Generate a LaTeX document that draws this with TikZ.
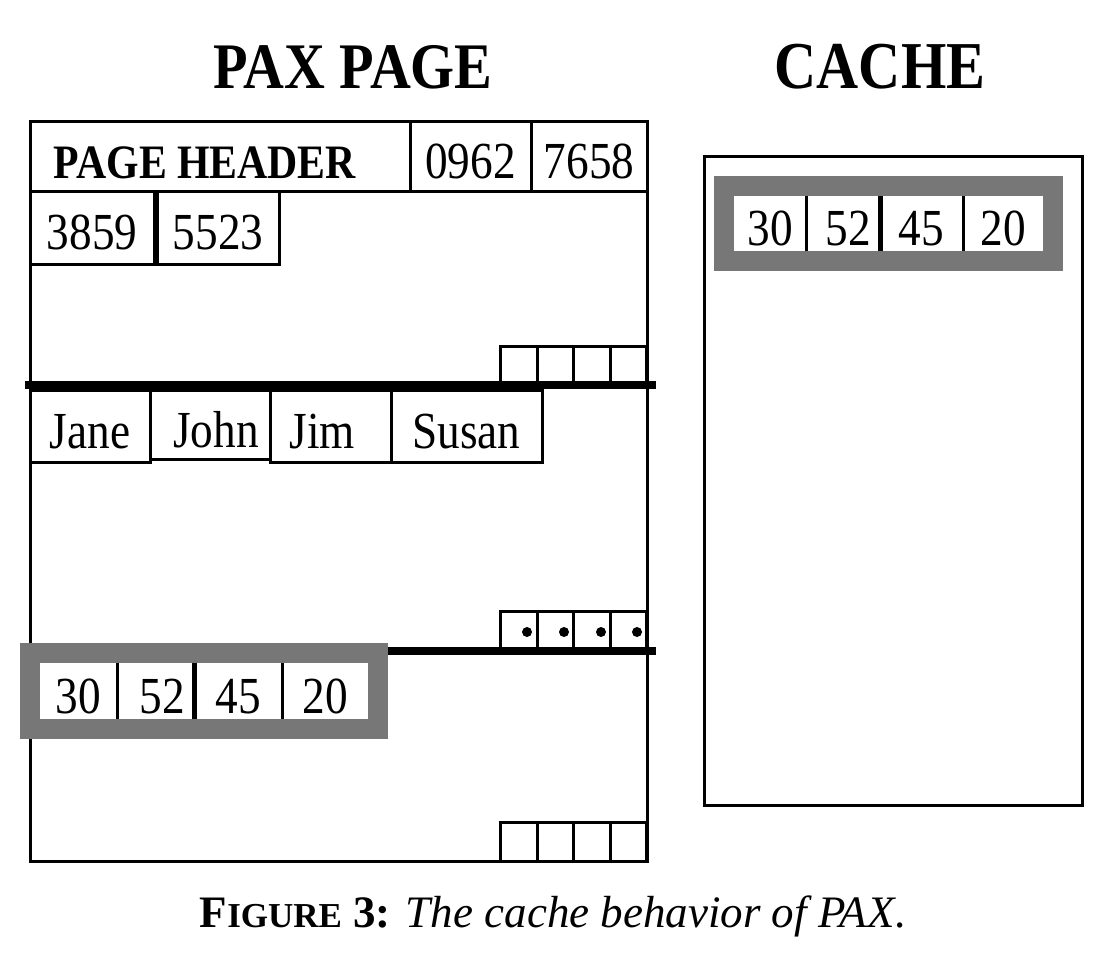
\documentclass[tikz,border=0pt]{standalone}
\usepackage{fontspec}
\setmainfont{Liberation Serif}[FakeStretch=0.87]
\newfontfamily\capfont{Liberation Serif}
\usepackage{tikz}
\usetikzlibrary{arrows, positioning}

\definecolor{hitgray}{RGB}{119,119,119}
\tikzset{
  cell/.style={draw, line width=3pt, inner sep=0pt, text height=44pt, text depth=0pt, font=\fontsize{52}{60}\selectfont},
  slot/.style={draw, line width=3pt, inner sep=0pt, minimum width=36.5pt, minimum height=39pt},
  datum/.style={fill=white, inner sep=0pt, text height=44pt, text depth=0pt, font=\fontsize{52}{60}\selectfont},
  hitbox/.style={fill=hitgray, inner sep=0pt},
  bit/.style={circle, fill=black, inner sep=0pt, minimum size=10pt}
}

\begin{document}
\begin{tikzpicture}[x=1pt, y=-1pt]
\useasboundingbox (0,0) rectangle (1118,958);
\node(paxtitle) at (353,67) {\fontsize{65}{70}\selectfont\bfseries PAX PAGE};
\node(cachetitle) at (880,67) {\fontsize{67}{72}\selectfont\bfseries CACHE};
%
\node[draw, line width=3pt, minimum width=617pt, minimum height=740pt](page) at (338.5,491) {};
\node[cell, minimum width=380pt, minimum height=70pt](header) at (220,156) {};
\node[anchor=base, font=\fontsize{48}{56}\selectfont\bfseries](headertext) at (205,178) {PAGE HEADER};
\node[cell, minimum width=121pt, minimum height=70pt](id1) at (470.5,156) {0962};
\node[cell, minimum width=116pt, minimum height=70pt](id2) at (589,156) {7658};
\node[cell, minimum width=124pt, minimum height=73pt](id3) at (92,227.5) {3859};
\node[cell, minimum width=122pt, minimum height=73pt](id4) at (218,227.5) {5523};
%
\node[slot](slota1) at (519,365.5) {};
\node[slot](slota2) at (555.5,365.5) {};
\node[slot](slota3) at (592,365.5) {};
\node[slot](slota4) at (628.5,365.5) {};
\coordinate(sep1w) at (25,385);
\coordinate(sep1e) at (656,385);
\draw[line width=8pt](sep1w) -- (sep1e);
%
\node[cell, minimum width=120pt, minimum height=72pt](name1) at (90,426) {Jane};
\node[cell, minimum width=120pt, minimum height=69pt, text height=45.5pt](name2) at (210,424.5) {\hspace*{12pt}John};
\node[cell, minimum width=121pt, minimum height=72pt](name3) at (330.5,426) {Jim\hspace*{16pt}};
\node[cell, minimum width=151pt, minimum height=72pt](name4) at (466.5,426) {Susan};
%
\node[slot, minimum height=40pt](slotb1) at (519,631) {};
\node[slot, minimum height=40pt](slotb2) at (555.5,631) {};
\node[slot, minimum height=40pt](slotb3) at (592,631) {};
\node[slot, minimum height=40pt](slotb4) at (628.5,631) {};
\node[bit](bit1) at (527,632) {};
\node[bit](bit2) at (564,632) {};
\node[bit](bit3) at (601,632) {};
\node[bit](bit4) at (637,632) {};
\coordinate(sep2w) at (25,651);
\coordinate(sep2e) at (656,651);
\draw[line width=8pt](sep2w) -- (sep2e);
%
\node[hitbox, minimum width=368pt, minimum height=96pt](pagehit) at (204,691) {};
\node[datum, minimum width=77pt, minimum height=56pt](page30) at (78.5,691) {30};
\node[datum, minimum width=77pt, minimum height=56pt](page52) at (155.5,691) {\hspace*{14pt}52};
\node[datum, minimum width=88pt, minimum height=56pt](page45) at (238,691) {45};
\node[datum, minimum width=86pt, minimum height=56pt](page20) at (325,691) {20};
\draw[line width=3pt](page30.north east) -- (page30.south east);
\draw[line width=5pt](page52.north east) -- (page52.south east);
\draw[line width=3pt](page45.north east) -- (page45.south east);
%
\node[slot](slotc1) at (519,841.5) {};
\node[slot](slotc2) at (555.5,841.5) {};
\node[slot](slotc3) at (592,841.5) {};
\node[slot](slotc4) at (628.5,841.5) {};
%
\node[draw, line width=3pt, minimum width=378pt, minimum height=649pt](cache) at (893,480.5) {};
\node[hitbox, minimum width=349pt, minimum height=95pt](cachehit) at (888.5,223.5) {};
\node[datum, minimum width=72pt, minimum height=55pt](cache30) at (770,223.5) {30};
\node[datum, minimum width=74pt, minimum height=55pt](cache52) at (843,223.5) {\hspace*{10pt}52};
\node[datum, minimum width=83pt, minimum height=55pt](cache45) at (921.5,223.5) {45};
\node[datum, minimum width=80pt, minimum height=55pt](cache20) at (1003,223.5) {20};
\draw[line width=3pt](cache30.north east) -- (cache30.south east);
\draw[line width=5pt](cache52.north east) -- (cache52.south east);
\draw[line width=3pt](cache45.north east) -- (cache45.south east);
%
\node[anchor=base](caption) at (553,927) {\capfont\fontsize{45}{50}\selectfont\textbf{F{\fontsize{35}{40}\selectfont IGURE} 3:} \textit{The cache behavior of PAX}.};
\end{tikzpicture}
\end{document}
